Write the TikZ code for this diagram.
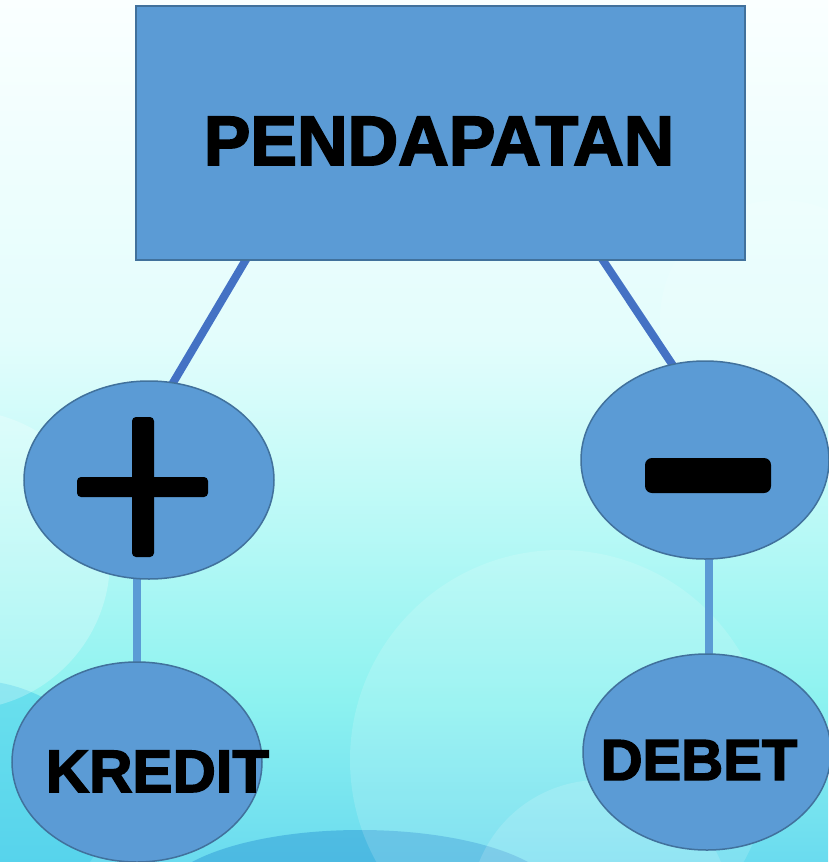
\documentclass[tikz,border=0pt]{standalone}
\usepackage{fontspec}
\setmainfont{Liberation Sans}[BoldFeatures={FakeBold=2.5}]
\usetikzlibrary{shapes.geometric}
\definecolor{boxfill}{HTML}{5B9BD5}
\definecolor{boxline}{HTML}{41719C}
\definecolor{linkblue}{HTML}{4472C4}
\definecolor{stemblue}{HTML}{5B9BD5}
\definecolor{bgA}{HTML}{6ADBEF}
\definecolor{bgB}{HTML}{8DF2F0}
\definecolor{bgC}{HTML}{B8F9F6}
\definecolor{bgD}{HTML}{E3FDFC}
\definecolor{bgE}{HTML}{FAFFFF}
\definecolor{deepblue}{HTML}{2F9AD6}
\definecolor{midcyan}{HTML}{45CDEB}
\pgfdeclareverticalshading{bgsh}{100bp}{color(0bp)=(bgA); color(25bp)=(bgA); color(34.4bp)=(bgB); color(44.3bp)=(bgC); color(55.3bp)=(bgD); color(75bp)=(bgE); color(100bp)=(bgE)}
\pgfdeclarelayer{bg}
\pgfdeclarelayer{links}
\pgfsetlayers{bg,links,main}
\tikzset{
  box/.style={draw=boxline, line width=1.5pt, fill=boxfill, rectangle, inner sep=0pt},
  oval/.style={draw=boxline, line width=1.5pt, fill=boxfill, ellipse, inner sep=0pt},
  linkline/.style={draw=linkblue, line width=8pt, shorten <=-10pt, shorten >=-10pt},
  stemline/.style={draw=stemblue, line width=8pt},
  lbl/.style={inner sep=0pt, anchor=base, text=black}
}
\begin{document}
\begin{tikzpicture}[x=1pt,y=-1pt]
\useasboundingbox (0,0) rectangle (828,862);
\begin{pgfonlayer}{bg}
  \shade[shading=bgsh] (0,0) rectangle (828,862);
  \begin{scope}
    \clip (0,0) rectangle (828,862);
    \fill[midcyan, opacity=.5] (-30,800) ellipse [x radius=140, y radius=120];
    \fill[deepblue, opacity=.5] (360,900) ellipse [x radius=200, y radius=70];
    \fill[white, opacity=.25] (-40,560) circle [radius=150];
    \fill[white, opacity=.15] (560,760) circle [radius=210];
    \fill[white, opacity=.15] (600,910) circle [radius=130];
    \fill[white, opacity=.12] (780,320) circle [radius=120];
  \end{scope}
\end{pgfonlayer}

\node[box, minimum width=609pt, minimum height=254pt] (top) at (440.5,133) {};
\node[oval, minimum width=250pt, minimum height=198pt] (plus) at (149,480) {};
\node[oval, minimum width=248pt, minimum height=198pt] (minus) at (705,460) {};
\node[oval, minimum width=250pt, minimum height=200pt] (kredit) at (137,762) {};
\node[oval, minimum width=248pt, minimum height=196pt] (debet) at (707,752) {};

\begin{pgfonlayer}{links}
  \draw[linkline] ([xshift=110pt]top.south west) -- (plus.76);
  \draw[linkline] ([xshift=468pt]top.south west) -- (minus.109);
  \draw[stemline] (kredit.center) -- (kredit.center |- plus.center);
  \draw[stemline] ([xshift=2pt]debet.center) -- ([xshift=2pt]debet.center |- minus.center);
\end{pgfonlayer}

\begin{scope}[shift={(plus.center)}]
  \fill[black, rounded corners=4pt] (-17,-63) rectangle (5,77);
  \fill[black, rounded corners=4pt] (-72,-3) rectangle (59,17);
\end{scope}
\begin{scope}[shift={(minus.center)}]
  \fill[black, rounded corners=7pt] (-60,-2) rectangle (66,33);
\end{scope}

\node[lbl, font=\fontsize{70}{70}\selectfont\bfseries] (ttl) at ([xshift=-1.5pt,yshift=-32pt]top.center) {PENDAPATAN};
\node[lbl, font=\fontsize{60}{60}\selectfont\bfseries] (kt) at ([xshift=20.5pt,yshift=-30pt]kredit.center) {KREDIT};
\node[lbl, font=\fontsize{58}{58}\selectfont\bfseries] (dt) at ([xshift=-8pt,yshift=-28pt]debet.center) {DEBET};
\end{tikzpicture}
\end{document}
